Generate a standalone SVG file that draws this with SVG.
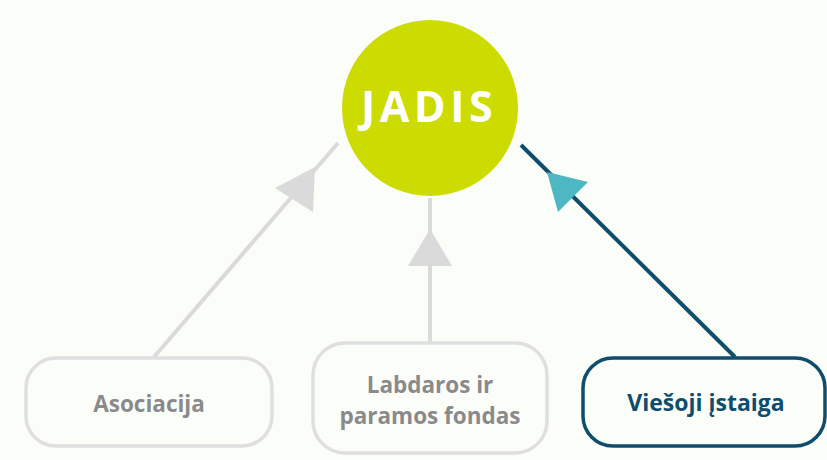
<svg xmlns="http://www.w3.org/2000/svg" width="827" height="460" viewBox="0 0 827 460">
<style>
.bg{fill:#fbfdf9}
.grey-line{stroke:#dadada;stroke-width:4;fill:none}
.grey-head{fill:#dadada}
.navy-line{stroke:#0e4d6c;stroke-width:4;fill:none}
.teal-head{fill:#4db7c3}
.box-grey{fill:#fbfdf9;stroke:#dfdfdf;stroke-width:3.5}
.box-navy{fill:#fbfdf9;stroke:#0e4d6c;stroke-width:3.5}
.t{font-family:"Open Sans","Liberation Sans",sans-serif;font-weight:700;text-anchor:middle}
.tg{fill:#8a8a8a;font-size:22.5px}
.tn{fill:#0e4d6c;font-size:23px}
</style>
<rect class="bg" x="0" y="0" width="827" height="460"/>
<g id="connectors">
  <line class="grey-line" x1="154" y1="357" x2="338" y2="143"/>
  <polygon class="grey-head" points="315,167 275,188 313,212"/>
  <line class="grey-line" x1="430" y1="198" x2="430" y2="343"/>
  <polygon class="grey-head" points="430,229 408,266 452,266"/>
  <line class="navy-line" x1="735" y1="357" x2="521" y2="145"/>
  <polygon class="teal-head" points="547,172 588,182 558,212"/>
</g>
<g id="jadis">
  <circle cx="430" cy="108" r="88" fill="#ccdb00"/>
  <text class="t" x="429" y="122" font-size="43" letter-spacing="4.5" fill="#ffffff">JADIS</text>
</g>
<g id="asociacija">
  <rect class="box-grey" x="26" y="358" width="246" height="88" rx="30"/>
  <text class="t tg" x="149" y="412">Asociacija</text>
</g>
<g id="labdaros">
  <rect class="box-grey" x="313" y="343" width="234" height="110" rx="32"/>
  <text class="t tg" x="430" y="393">Labdaros ir</text>
  <text class="t tg" x="430" y="424">paramos fondas</text>
</g>
<g id="viesoji">
  <rect class="box-navy" x="583" y="358" width="242" height="88" rx="30"/>
  <text class="t tn" x="706" y="411">Viešoji įstaiga</text>
</g>
</svg>
